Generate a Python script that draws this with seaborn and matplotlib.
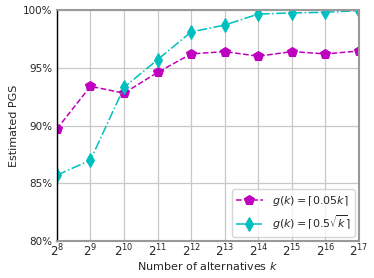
import numpy as np
import pandas as pd
import matplotlib
matplotlib.use('Agg')
import matplotlib.pyplot as plt
import seaborn as sns
from matplotlib.ticker import FuncFormatter

# exponents of k and estimated PGS (%)
exponents = [8, 9, 10, 11, 12, 13, 14, 15, 16, 17]
pgs_linear = [89.7, 93.4, 92.8, 94.6, 96.2, 96.4, 96.0, 96.4, 96.2, 96.45]
pgs_sqrt = [85.7, 87.0, 93.3, 95.7, 98.1, 98.7, 99.65, 99.75, 99.8, 99.95]

k = [2 ** e for e in exponents]
df = pd.DataFrame({'k': k, 'lin': pgs_linear, 'sq': pgs_sqrt})

sns.set_style('whitegrid')
plt.rcParams['font.family'] = ['DejaVu Sans']

fig, ax = plt.subplots(figsize=(3.74, 2.78), dpi=100)
fig.subplots_adjust(left=0.152, right=0.96, top=0.964, bottom=0.133)

sns.lineplot(data=df, x='k', y='lin', ax=ax, color='m', linestyle='--', marker='p',
             markersize=7.5, markeredgecolor='m', linewidth=1.1,
             label=r'$g(k)=\lceil 0.05k\rceil$')
sns.lineplot(data=df, x='k', y='sq', ax=ax, color='c', linestyle='-.', marker='d',
             markersize=7.5, markeredgecolor='c', linewidth=1.1,
             label=r'$g(k)=\lceil 0.5\sqrt{k}\rceil$')

ax.set_xscale('log', base=2)
ax.set_xlim(2 ** 8, 2 ** 17)
ax.set_xticks(k)
ax.set_xticklabels([r'$2^{%d}$' % e for e in exponents], fontsize=8.5)
ax.set_ylim(80, 100)
ax.set_yticks([80, 85, 90, 95, 100])
ax.yaxis.set_major_formatter(FuncFormatter(lambda v, p: '%d%%' % v))
ax.tick_params(axis='y', labelsize=7.5, length=2, pad=1, color='k')
ax.tick_params(axis='x', length=0, pad=1)
ax.minorticks_off()

ax.grid(True, color='#c8c8c8', linewidth=0.9)
for s in ['top', 'right', 'bottom']:
    ax.spines[s].set_color('#999999')
    ax.spines[s].set_linewidth(1.5)
ax.spines['left'].set_color('black')
ax.spines['left'].set_linewidth(1.0)

ax.set_xlabel(r'Number of alternatives $k$', fontsize=8, labelpad=1)
ax.set_ylabel('Estimated PGS', fontsize=8, labelpad=3)
ax.legend(loc='lower right', fontsize=8, frameon=True, handlelength=2.4,
          borderaxespad=0.4)

plt.savefig('out.png', dpi=100)
